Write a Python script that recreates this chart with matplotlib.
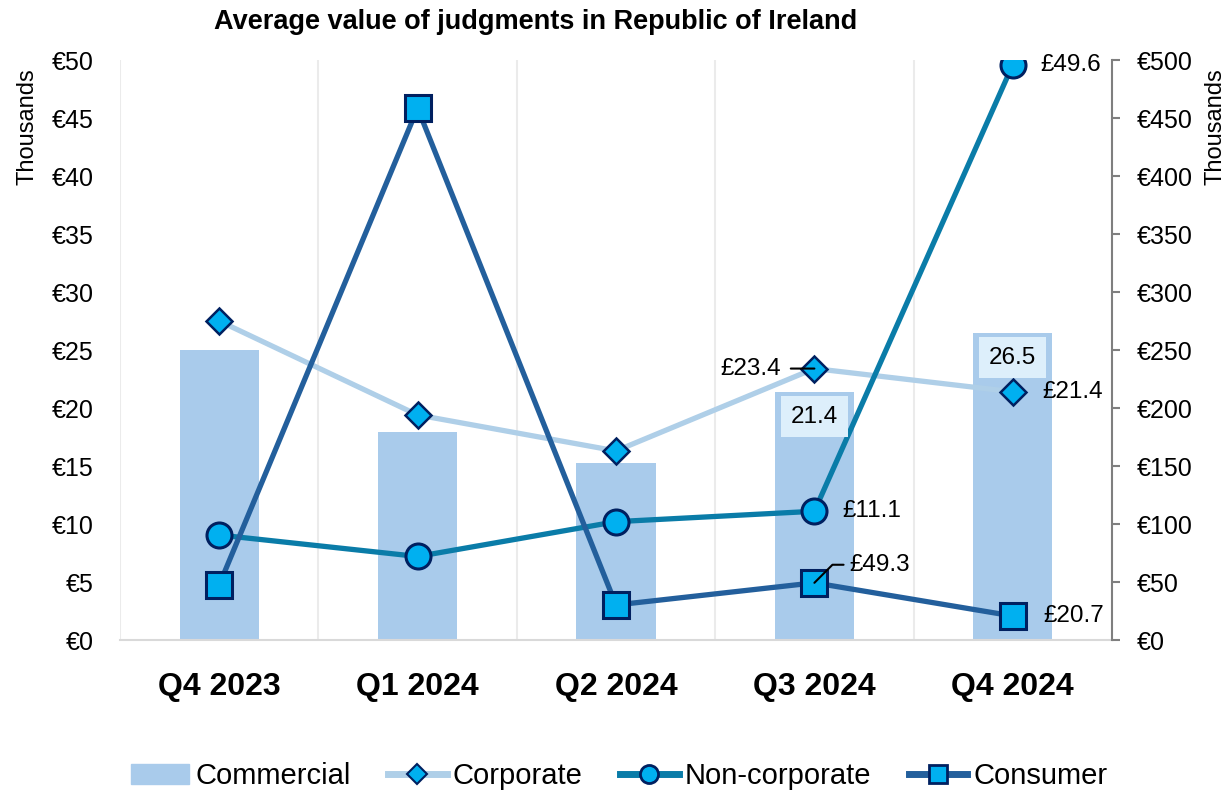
import numpy as np
import matplotlib
matplotlib.use("Agg")
import matplotlib.pyplot as plt
from matplotlib.lines import Line2D
from matplotlib.patches import Patch

plt.rcParams["font.family"] = ["Liberation Sans", "DejaVu Sans"]

# Data (thousands of euro)
quarters = ["Q4 2023", "Q1 2024", "Q2 2024", "Q3 2024", "Q4 2024"]
commercial = [25.0, 17.9, 15.3, 21.4, 26.5]        # left axis, bars
corporate = [27.5, 19.4, 16.3, 23.4, 21.4]         # left axis
non_corporate = [9.05, 7.2, 10.2, 11.1, 49.6]      # left axis
consumer = [47.5, 458.5, 30.2, 49.3, 20.7]         # right axis

left_ticks = np.arange(0, 51, 5)
right_ticks = np.arange(0, 501, 50)

C_BAR = "#A9CBEB"
C_CORP = "#AFCFE8"
C_NONC = "#0A7CA8"
C_CONS = "#235F9C"
C_MFILL = "#00B0F0"
C_MEDGE = "#002060"

fig = plt.figure(figsize=(12.28, 7.91), dpi=100)
ax1 = fig.add_axes([120 / 1228, 151 / 791, 992 / 1228, 580 / 791])
ax2 = ax1.twinx()

x = np.arange(len(quarters))

ax1.bar(x, commercial, width=0.4, color=C_BAR, zorder=2)
ax1.plot(x, corporate, color=C_CORP, lw=3.8, marker="D", ms=13,
         mfc=C_MFILL, mec=C_MEDGE, mew=1.8, zorder=3)
ax1.plot(x, non_corporate, color=C_NONC, lw=3.8, marker="o", ms=18,
         mfc=C_MFILL, mec=C_MEDGE, mew=2.2, zorder=4)
ax2.plot(x, consumer, color=C_CONS, lw=3.8, marker="s", ms=19,
         mfc=C_MFILL, mec=C_MEDGE, mew=2.2, zorder=4)

ax1.set_xlim(-0.5, len(quarters) - 0.5)
ax1.set_ylim(0, 50)
ax2.set_ylim(0, 500)

ax1.set_xticks(x)
ax1.set_xticklabels(quarters, fontsize=23, fontweight="bold")
ax1.set_xticks(np.arange(-0.5, len(quarters)), minor=True)
ax1.grid(axis="x", which="minor", color="#EBEBEB", lw=1.5, zorder=0)
ax1.tick_params(axis="x", which="both", length=0, pad=23)

ax1.set_yticks(left_ticks)
ax1.set_yticklabels([f"€{v}" for v in left_ticks], fontsize=18)
ax1.tick_params(axis="y", length=0, pad=19)

ax2.set_yticks(right_ticks)
ax2.set_yticklabels([f"€{v}" for v in right_ticks], fontsize=18)
ax2.tick_params(axis="y", length=6, width=1.5, color="#7F7F7F", pad=12)

for s in ["top", "left", "right"]:
    ax1.spines[s].set_visible(False)
ax1.spines["bottom"].set_color("#D9D9D9")
ax1.spines["bottom"].set_linewidth(1.5)
for s in ["top", "left", "bottom"]:
    ax2.spines[s].set_visible(False)
ax2.spines["right"].set_color("#7F7F7F")
ax2.spines["right"].set_linewidth(1.5)

# data labels
lab = dict(fontsize=17.5, va="center", ha="left", textcoords="offset points")
ax1.annotate(f"£{non_corporate[4]}", xy=(4, non_corporate[4]), xytext=(20, 0), **lab)
ax1.annotate(f"£{corporate[4]}", xy=(4, corporate[4]), xytext=(21, 0), **lab)
ax2.annotate(f"£{consumer[4]}", xy=(4, consumer[4]), xytext=(22, 0), **lab)
ax1.annotate(f"£{non_corporate[3]}", xy=(3, non_corporate[3]), xytext=(20, 0), **lab)

ax1.annotate(f"£{corporate[3]}", xy=(3, corporate[3]), xytext=(-24, 0),
             fontsize=17.5, va="center", ha="right", textcoords="offset points",
             arrowprops=dict(arrowstyle="-", color="black", lw=1.5,
                             shrinkA=5, shrinkB=0, relpos=(1, 0.5)), zorder=6)
ax2.annotate(f"£{consumer[3]}", xy=(3, consumer[3]), xytext=(25, 13),
             fontsize=17.5, va="center", ha="left", textcoords="offset points",
             arrowprops=dict(arrowstyle="-", color="black", lw=1.5,
                             shrinkA=2, shrinkB=0, relpos=(0, 0.5),
                             connectionstyle="angle,angleA=0,angleB=45,rad=0"),
             zorder=6)

for i in (3, 4):
    ax1.annotate(f"{commercial[i]}", xy=(i, commercial[i]), xytext=(0, -18),
                 textcoords="offset points", fontsize=17.5, ha="center", va="center",
                 bbox=dict(boxstyle="square,pad=0.4", fc="#DDEFFB", ec="none"),
                 zorder=5)

fig.text(536 / 1228, 1 - 22 / 791, "Average value of judgments in Republic of Ireland",
         fontsize=19.5, fontweight="bold", ha="center", va="center")
fig.text(28 / 1228, 1 - 127 / 791, "Thousands", rotation=90, fontsize=17,
         ha="center", va="center")
fig.text(1215 / 1228, 1 - 127 / 791, "Thousands", rotation=90, fontsize=17,
         ha="center", va="center")

handles = [
    Patch(color=C_BAR, label="Commercial"),
    Line2D([], [], color=C_CORP, lw=5, marker="D", ms=10, mfc=C_MFILL,
           mec=C_MEDGE, mew=1.5, label="Corporate"),
    Line2D([], [], color=C_NONC, lw=5, marker="o", ms=13, mfc=C_MFILL,
           mec=C_MEDGE, mew=2, label="Non-corporate"),
    Line2D([], [], color=C_CONS, lw=5, marker="s", ms=13, mfc=C_MFILL,
           mec=C_MEDGE, mew=2, label="Consumer"),
]
fig.legend(handles=handles, loc="center", bbox_to_anchor=(619 / 1228, 1 - 776 / 791),
           ncol=4, frameon=False, handlelength=2.0, handletextpad=0.2,
           columnspacing=1.3, fontsize=21)

fig.savefig("out.png", dpi=100)
